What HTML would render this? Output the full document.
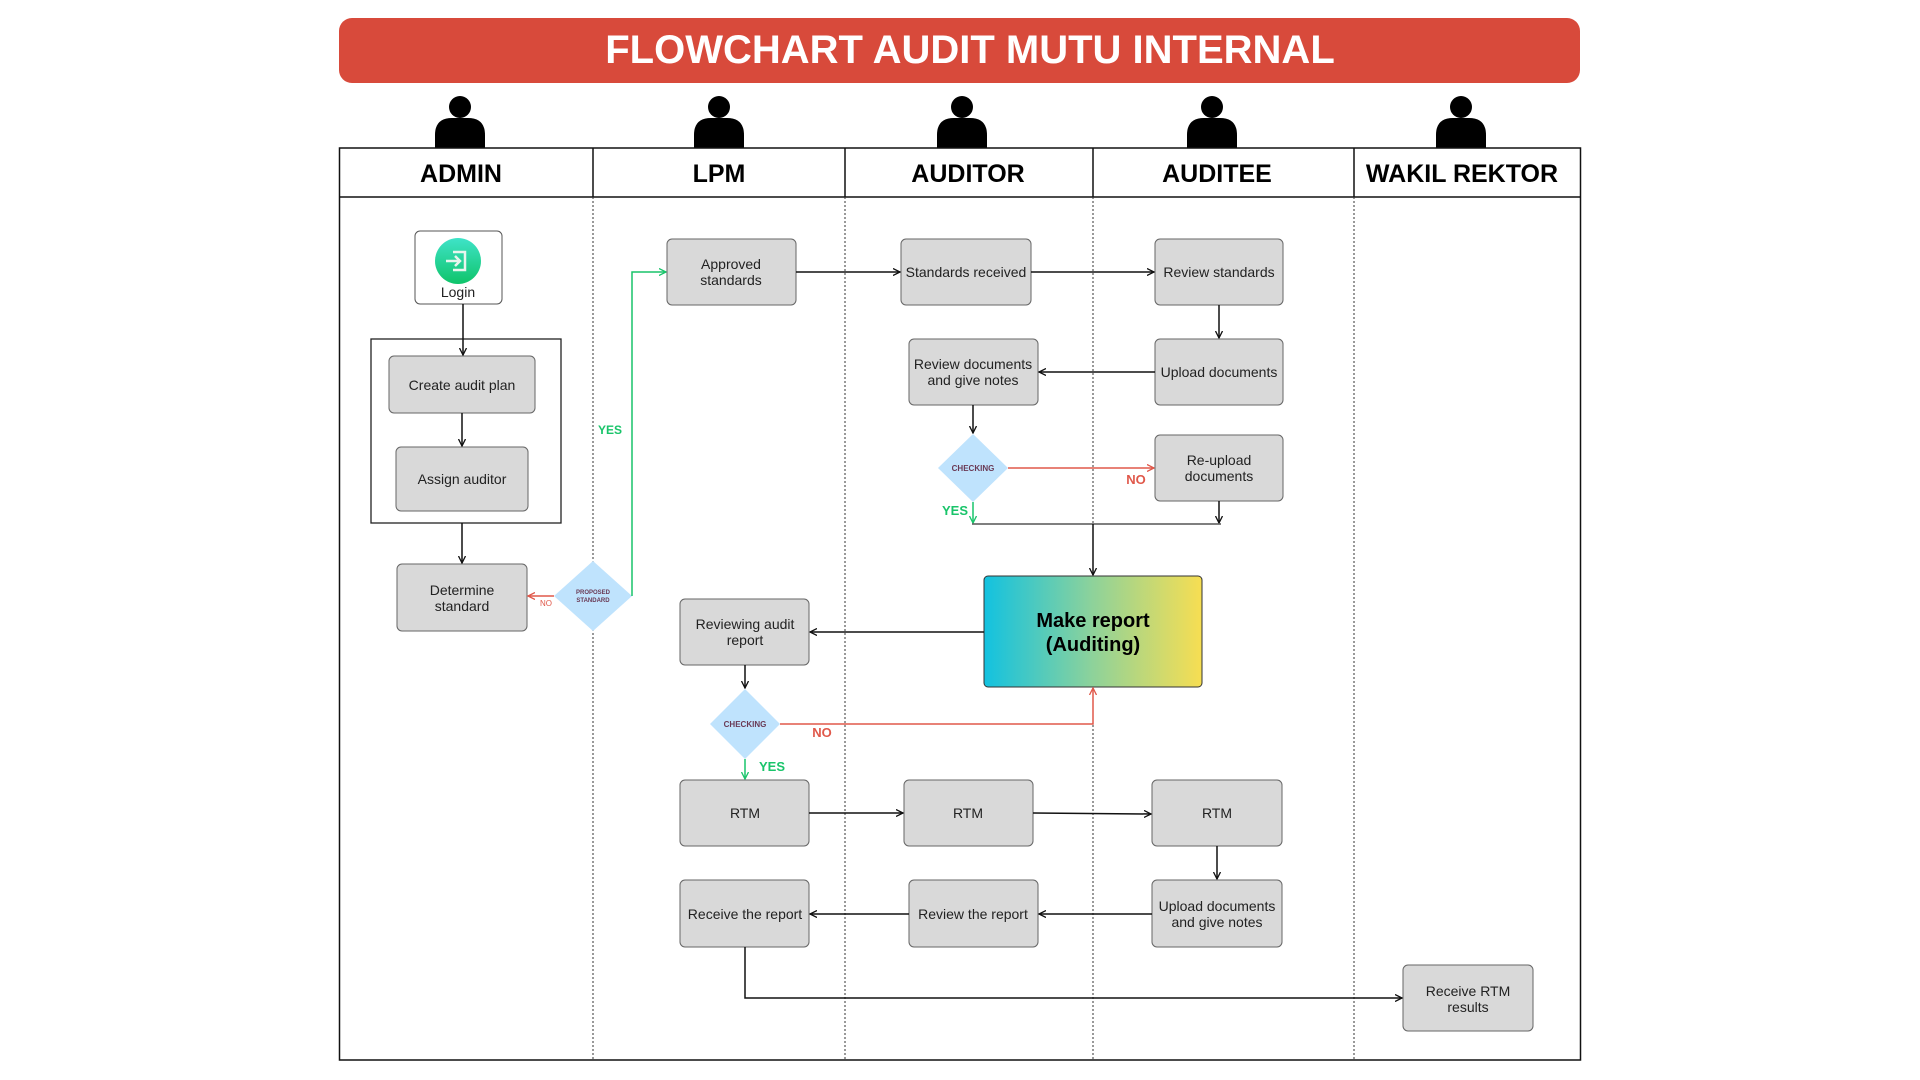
<!DOCTYPE html>
<html><head><meta charset="utf-8"><style>
html,body{margin:0;padding:0;background:#fff;width:1920px;height:1080px;overflow:hidden}
svg{display:block}
text{font-family:"Liberation Sans",sans-serif}
.b{fill:#d9d9d9;stroke:#666;stroke-width:1}
.t{font-size:14px;fill:#222;text-anchor:middle}
.h{font-size:25px;font-weight:bold;fill:#000;text-anchor:middle}
.ln{stroke:#111;stroke-width:1.5;fill:none}
.dl{stroke:#333;stroke-width:1;stroke-dasharray:2,2}
</style></head><body>
<svg width="1920" height="1080" viewBox="0 0 1920 1080">
<defs>
<marker id="a" markerWidth="8" markerHeight="8" refX="7" refY="4" orient="auto" markerUnits="userSpaceOnUse"><path d="M0,0.5 L7,4 L0,7.5" fill="none" stroke="#111" stroke-width="1.3"/></marker>
<marker id="ar" markerWidth="8" markerHeight="8" refX="7" refY="4" orient="auto" markerUnits="userSpaceOnUse"><path d="M0,0.5 L7,4 L0,7.5" fill="none" stroke="#e0584a" stroke-width="1.3"/></marker>
<marker id="ag" markerWidth="8" markerHeight="8" refX="7" refY="4" orient="auto" markerUnits="userSpaceOnUse"><path d="M0,0.5 L7,4 L0,7.5" fill="none" stroke="#19c46a" stroke-width="1.3"/></marker>
<linearGradient id="g" x1="0" x2="1" y1="0" y2="0"><stop offset="0" stop-color="#12c2e0"/><stop offset="0.5" stop-color="#8ed29a"/><stop offset="1" stop-color="#f7de52"/></linearGradient>
<linearGradient id="gc" x1="0" x2="0" y1="0" y2="1"><stop offset="0" stop-color="#3fe3c8"/><stop offset="1" stop-color="#0fc46a"/></linearGradient>
</defs>
<!-- title -->
<rect x="339" y="18" width="1241" height="65" rx="13" fill="#d84a3b"/>
<text x="970" y="63" text-anchor="middle" font-size="40" font-weight="bold" fill="#fff">FLOWCHART AUDIT MUTU  INTERNAL</text>
<!-- persons -->
<g fill="#000">
<g transform="translate(460,0)"><circle cx="0" cy="107" r="11"/><path d="M-25,148 L-25,135 Q-25,118 -8,118 L8,118 Q25,118 25,135 L25,148Z"/></g>
<g transform="translate(719,0)"><circle cx="0" cy="107" r="11"/><path d="M-25,148 L-25,135 Q-25,118 -8,118 L8,118 Q25,118 25,135 L25,148Z"/></g>
<g transform="translate(962,0)"><circle cx="0" cy="107" r="11"/><path d="M-25,148 L-25,135 Q-25,118 -8,118 L8,118 Q25,118 25,135 L25,148Z"/></g>
<g transform="translate(1212,0)"><circle cx="0" cy="107" r="11"/><path d="M-25,148 L-25,135 Q-25,118 -8,118 L8,118 Q25,118 25,135 L25,148Z"/></g>
<g transform="translate(1461,0)"><circle cx="0" cy="107" r="11"/><path d="M-25,148 L-25,135 Q-25,118 -8,118 L8,118 Q25,118 25,135 L25,148Z"/></g>
</g>
<!-- lanes -->
<rect x="339.5" y="148" width="1241" height="912" fill="none" stroke="#111" stroke-width="1.5"/>
<line x1="339" y1="197" x2="1581" y2="197" stroke="#111" stroke-width="1.5"/>
<g stroke="#111" stroke-width="1.5"><line x1="593" y1="148" x2="593" y2="197"/><line x1="845" y1="148" x2="845" y2="197"/><line x1="1093" y1="148" x2="1093" y2="197"/><line x1="1354" y1="148" x2="1354" y2="197"/></g>
<line class="dl" x1="593" y1="197" x2="593" y2="1060"/><line class="dl" x1="845" y1="197" x2="845" y2="1060"/><line class="dl" x1="1093" y1="197" x2="1093" y2="1060"/><line class="dl" x1="1354" y1="197" x2="1354" y2="1060"/>
<text class="h" x="461" y="182">ADMIN</text><text class="h" x="719" y="182">LPM</text><text class="h" x="968" y="182">AUDITOR</text><text class="h" x="1217" y="182">AUDITEE</text><text class="h" x="1462" y="182">WAKIL REKTOR</text>
<!-- admin -->
<rect x="415" y="231" width="87" height="73" rx="5" fill="#fff" stroke="#555"/>
<circle cx="458" cy="261" r="23" fill="url(#gc)"/>
<path d="M453,252 H465 V270 H453 M446,261 H460 M455,256 L460,261 L455,266" fill="none" stroke="#e8f5ee" stroke-width="2.5"/>
<text class="t" x="458" y="297">Login</text>
<rect x="371" y="339" width="190" height="184" fill="none" stroke="#222" stroke-width="1.3"/>
<rect class="b" x="389" y="356" width="146" height="57" rx="5"/><text class="t" x="462" y="390">Create audit plan</text>
<rect class="b" x="396" y="447" width="132" height="64" rx="5"/><text class="t" x="462" y="484">Assign auditor</text>
<rect class="b" x="397" y="564" width="130" height="67" rx="5"/><text class="t" x="462" y="595">Determine</text><text class="t" x="462" y="611">standard</text>
<line class="ln" x1="463" y1="304" x2="463" y2="355" marker-end="url(#a)"/>
<line class="ln" x1="462" y1="413" x2="462" y2="446" marker-end="url(#a)"/>
<line class="ln" x1="462" y1="523" x2="462" y2="563" marker-end="url(#a)"/>
<!-- proposed diamond -->
<polygon points="593,561 632,596 593,631 554,596" fill="#bfe3fd"/>
<text x="593" y="594" text-anchor="middle" font-size="6" font-weight="bold" fill="#6a3a55">PROPOSED</text><text x="593" y="602" text-anchor="middle" font-size="6" font-weight="bold" fill="#6a3a55">STANDARD</text>
<line x1="554" y1="596" x2="528" y2="596" stroke="#e0584a" stroke-width="1.5" marker-end="url(#ar)"/>
<text x="546" y="606" font-size="8" fill="#e0584a" text-anchor="middle">NO</text>
<polyline points="632,596 632,272 666,272" fill="none" stroke="#19c46a" stroke-width="1.5" marker-end="url(#ag)"/>
<text x="610" y="434" font-size="12" font-weight="bold" fill="#19c46a" text-anchor="middle">YES</text>
<!-- row 1 -->
<rect class="b" x="667" y="239" width="129" height="66" rx="5"/><text class="t" x="731" y="269">Approved</text><text class="t" x="731" y="285">standards</text>
<rect class="b" x="901" y="239" width="130" height="66" rx="5"/><text class="t" x="966" y="277">Standards received</text>
<rect class="b" x="1155" y="239" width="128" height="66" rx="5"/><text class="t" x="1219" y="277">Review standards</text>
<line class="ln" x1="796" y1="272" x2="900" y2="272" marker-end="url(#a)"/>
<line class="ln" x1="1031" y1="272" x2="1154" y2="272" marker-end="url(#a)"/>
<line class="ln" x1="1219" y1="305" x2="1219" y2="338" marker-end="url(#a)"/>
<rect class="b" x="1155" y="339" width="128" height="66" rx="5"/><text class="t" x="1219" y="377">Upload documents</text>
<rect class="b" x="909" y="339" width="129" height="66" rx="5"/><text class="t" x="973" y="369">Review documents</text><text class="t" x="973" y="385">and give notes</text>
<line class="ln" x1="1155" y1="372" x2="1039" y2="372" marker-end="url(#a)"/>
<line class="ln" x1="973" y1="405" x2="973" y2="433" marker-end="url(#a)"/>
<polygon points="973,434 1008,468 973,502 938,468" fill="#bfe3fd"/>
<text x="973" y="471" text-anchor="middle" font-size="8" font-weight="bold" fill="#6a3a55">CHECKING</text>
<line x1="1008" y1="468" x2="1154" y2="468" stroke="#e0584a" stroke-width="1.5" marker-end="url(#ar)"/>
<text x="1136" y="484" font-size="13" font-weight="bold" fill="#e0584a" text-anchor="middle">NO</text>
<rect class="b" x="1155" y="435" width="128" height="66" rx="5"/><text class="t" x="1219" y="465">Re-upload</text><text class="t" x="1219" y="481">documents</text>
<line x1="973" y1="502" x2="973" y2="523" stroke="#19c46a" stroke-width="1.5" marker-end="url(#ag)"/>
<text x="955" y="515" font-size="13" font-weight="bold" fill="#19c46a" text-anchor="middle">YES</text>
<line class="ln" x1="1219" y1="501" x2="1219" y2="523" marker-end="url(#a)"/>
<line x1="972" y1="524" x2="1221" y2="524" stroke="#555" stroke-width="1.5"/>
<line class="ln" x1="1093" y1="524" x2="1093" y2="575" marker-end="url(#a)"/>
<!-- make report -->
<rect x="984" y="576" width="218" height="111" rx="4" fill="url(#g)" stroke="#333"/>
<text x="1093" y="627" text-anchor="middle" font-size="20" font-weight="bold" fill="#000">Make report</text>
<text x="1093" y="651" text-anchor="middle" font-size="20" font-weight="bold" fill="#000">(Auditing)</text>
<line class="ln" x1="984" y1="632" x2="810" y2="632" marker-end="url(#a)"/>
<rect class="b" x="680" y="599" width="129" height="66" rx="5"/><text class="t" x="745" y="629">Reviewing audit</text><text class="t" x="745" y="645">report</text>
<line class="ln" x1="745" y1="665" x2="745" y2="688" marker-end="url(#a)"/>
<polygon points="745,689 780,724 745,759 710,724" fill="#bfe3fd"/>
<text x="745" y="727" text-anchor="middle" font-size="8" font-weight="bold" fill="#6a3a55">CHECKING</text>
<polyline points="780,724 1093,724 1093,688" fill="none" stroke="#e0584a" stroke-width="1.5" marker-end="url(#ar)"/>
<text x="822" y="737" font-size="13" font-weight="bold" fill="#e0584a" text-anchor="middle">NO</text>
<line x1="745" y1="759" x2="745" y2="779" stroke="#19c46a" stroke-width="1.5" marker-end="url(#ag)"/>
<text x="772" y="771" font-size="13" font-weight="bold" fill="#19c46a" text-anchor="middle">YES</text>
<!-- RTM row -->
<rect class="b" x="680" y="780" width="129" height="66" rx="5"/><text class="t" x="745" y="818">RTM</text>
<rect class="b" x="904" y="780" width="129" height="66" rx="5"/><text class="t" x="968" y="818">RTM</text>
<rect class="b" x="1152" y="780" width="130" height="66" rx="5"/><text class="t" x="1217" y="818">RTM</text>
<line class="ln" x1="809" y1="813" x2="903" y2="813" marker-end="url(#a)"/>
<line class="ln" x1="1033" y1="813" x2="1151" y2="814" marker-end="url(#a)"/>
<line class="ln" x1="1217" y1="846" x2="1217" y2="879" marker-end="url(#a)"/>
<!-- bottom row -->
<rect class="b" x="680" y="880" width="129" height="67" rx="5"/><text class="t" x="745" y="919">Receive the report</text>
<rect class="b" x="909" y="880" width="129" height="67" rx="5"/><text class="t" x="973" y="919">Review the report</text>
<rect class="b" x="1152" y="880" width="130" height="67" rx="5"/><text class="t" x="1217" y="911">Upload documents</text><text class="t" x="1217" y="927">and give notes</text>
<line class="ln" x1="1152" y1="914" x2="1039" y2="914" marker-end="url(#a)"/>
<line class="ln" x1="909" y1="914" x2="810" y2="914" marker-end="url(#a)"/>
<rect class="b" x="1403" y="965" width="130" height="66" rx="5"/><text class="t" x="1468" y="996">Receive RTM</text><text class="t" x="1468" y="1012">results</text>
<polyline class="ln" points="745,947 745,998 1402,998" marker-end="url(#a)"/>
</svg>
</body></html>
